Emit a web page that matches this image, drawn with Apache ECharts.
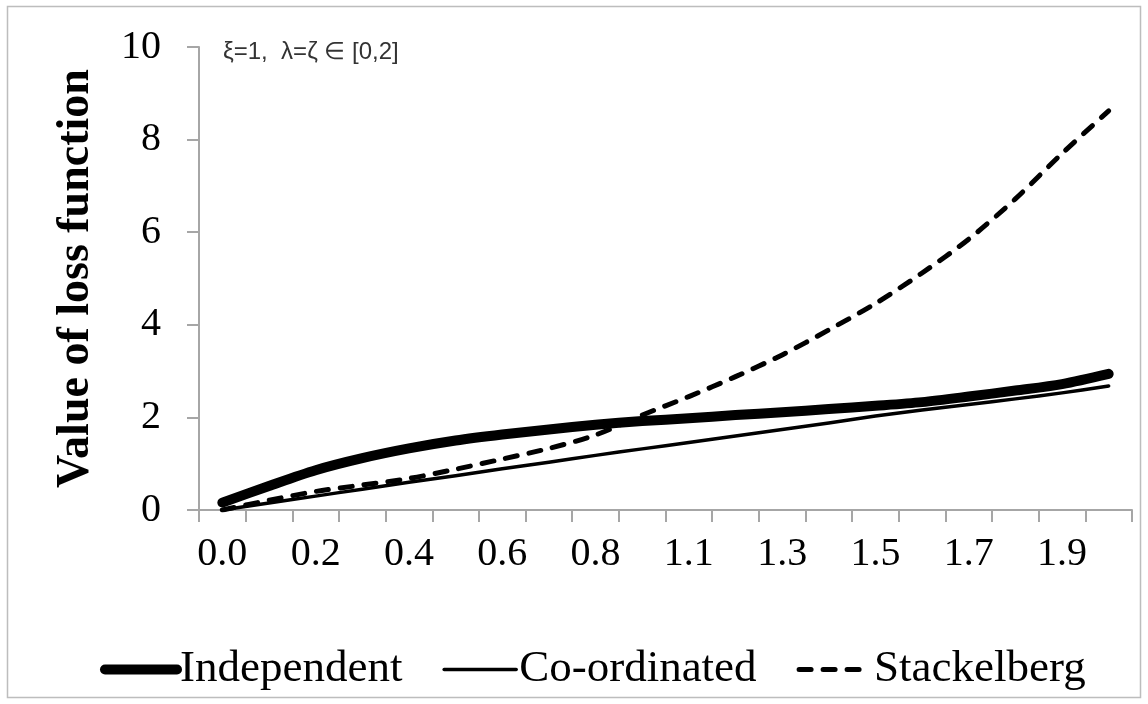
<!DOCTYPE html>
<html>
<head>
<meta charset="utf-8">
<script src="https://cdn.jsdelivr.net/npm/echarts@6/dist/echarts.min.js"></script>
<style>
  html, body { margin: 0; padding: 0; background: #fff; }
  #chart { width: 1148px; height: 704px; }
</style>
</head>
<body>
<div id="chart"></div>
<script>
// Category labels (lambda = zeta from 0 to 2 in 19 steps, shown to 1 decimal)
const categories = ['0.0','0.1','0.2','0.3','0.4','0.5','0.6','0.7','0.8','0.9',
                    '1.1','1.2','1.3','1.4','1.5','1.6','1.7','1.8','1.9','2.0'];

const independent = [0.16, 0.52, 0.86, 1.12, 1.33, 1.50, 1.63, 1.74, 1.84, 1.92,
                     1.98, 2.05, 2.11, 2.18, 2.25, 2.33, 2.45, 2.58, 2.72, 2.94];

const coordinated = [0.00, 0.15, 0.30, 0.45, 0.60, 0.74, 0.89, 1.03, 1.18, 1.32,
                     1.46, 1.60, 1.74, 1.88, 2.03, 2.16, 2.28, 2.40, 2.53, 2.68];

const stackelberg = [0.00, 0.21, 0.40, 0.54, 0.68, 0.88, 1.10, 1.33, 1.62, 2.05,
                     2.45, 2.88, 3.35, 3.89, 4.46, 5.12, 5.85, 6.72, 7.70, 8.62];

const yTicks = { min: 0, max: 10, step: 2 };
const seriesNames = ['Independent', 'Co-ordinated', 'Stackelberg'];
const annotation = 'ξ=1,  λ=ζ ∈ [0,2]';
const yTitle = 'Value of loss function';

const serif = '"Liberation Serif", "DejaVu Serif", serif';
const axisGray = '#a6a6a6';

const chart = echarts.init(document.getElementById('chart'), null, { renderer: 'canvas' });

const styles = [
  { width: 10, type: 'solid' },
  { width: 3.5, type: 'solid' },
  { width: 5, type: [12, 12] }
];
const dataSets = [independent, coordinated, stackelberg];

chart.setOption({
  backgroundColor: '#fff',
  animation: false,
  graphic: [{
    type: 'rect',
    shape: { x: 7.5, y: 6.5, width: 1133, height: 691 },
    style: { fill: 'none', stroke: '#bdbdbd', lineWidth: 1.5 },
    silent: true
  }],
  title: {
    text: annotation,
    left: 218, top: 35,
    textStyle: { fontFamily: '"Liberation Sans", Arial, sans-serif', fontSize: 24, fontWeight: 'normal', color: '#333' }
  },
  grid: { left: 199, right: 16, top: 47, bottom: 194, containLabel: false, outerBoundsMode: 'none' },
  legend: {
    left: 95, top: 642,
    itemWidth: 72, itemHeight: 20, itemGap: 40,
    textStyle: { fontFamily: serif, fontSize: 45, color: '#000', padding: [0, 0, 0, -2] },
    data: seriesNames.map((n, i) => ({
      name: n,
      itemStyle: { opacity: 0, color: 'rgba(0,0,0,0)', borderWidth: 0 },
      lineStyle: { width: styles[i].width, type: styles[i].type, color: '#000', cap: 'round' }
    }))
  },
  xAxis: {
    type: 'category',
    data: categories,
    boundaryGap: true,
    axisLine: { show: true, lineStyle: { color: axisGray, width: 2 } },
    axisTick: { show: true, interval: 0, length: 12, lineStyle: { color: axisGray, width: 2 } },
    axisLabel: { interval: 1, margin: 24, fontFamily: serif, fontSize: 40, color: '#000' },
    splitLine: { show: false }
  },
  yAxis: {
    type: 'value',
    min: yTicks.min, max: yTicks.max, interval: yTicks.step,
    name: yTitle,
    nameLocation: 'middle',
    nameGap: 100,
    nameRotate: 90,
    nameTextStyle: { fontFamily: serif, fontSize: 46, fontWeight: 'bold', color: '#000' },
    axisLine: { show: true, lineStyle: { color: axisGray, width: 2 } },
    axisTick: { show: true, length: 12, lineStyle: { color: axisGray, width: 2 } },
    axisLabel: { margin: 38, fontFamily: serif, fontSize: 40, color: '#000' },
    splitLine: { show: false }
  },
  series: seriesNames.map((n, i) => ({
    name: n,
    type: 'line',
    data: dataSets[i],
    smooth: 0.3,
    symbol: 'none',
    lineStyle: { color: '#000', width: styles[i].width, type: styles[i].type, cap: 'round', join: 'round' },
    itemStyle: { color: '#000' },
    z: 3 - i
  }))
});
</script>
</body>
</html>
